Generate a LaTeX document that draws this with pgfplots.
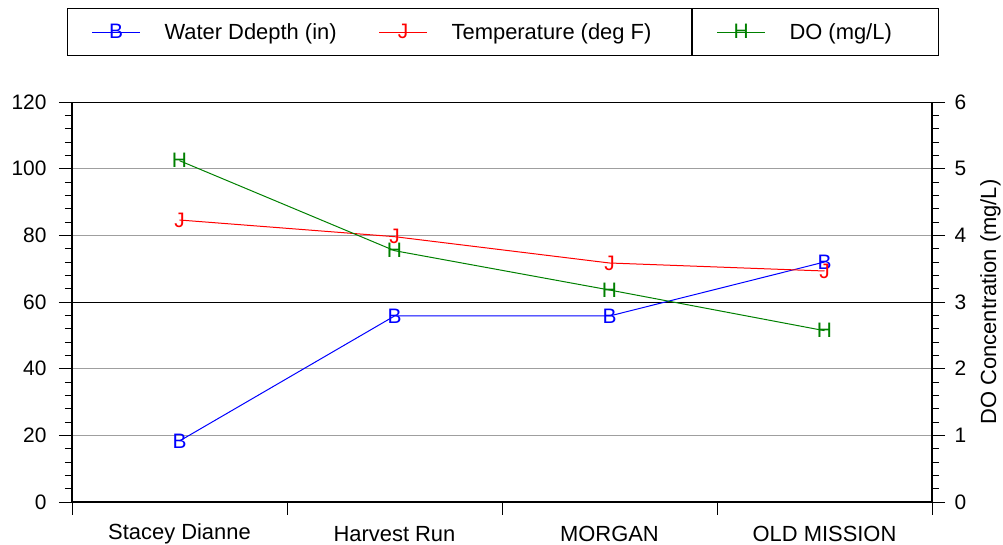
\documentclass[border=0pt]{standalone}
\usepackage{fontspec}
\setmainfont{Liberation Sans}
\usepackage{pgfplots}
\pgfplotsset{compat=1.18}
\usetikzlibrary{calc}
\definecolor{dogreen}{RGB}{0,128,0}

\begin{document}
\begin{tikzpicture}
\pgfplotsset{
  common/.style={
    width=860bp, height=400bp, scale only axis,
    xmin=0, xmax=4, ymin=0,
    tick label style={font=\fontsize{21}{25}\selectfont},
    /pgf/number format/assume math mode=true,
    minor y tick num=4,
    tick align=outside,
    major tick length=13bp, minor tick length=7bp,
    every tick/.style={black, line width=0.8bp},
    axis line style={-, line width=2.2bp},
    legend image code/.code={\draw[mark repeat=2,mark phase=2,##1] plot coordinates {(0bp,0bp)(24bp,0bp)(48bp,0bp)};},
    legend style={font=\fontsize{22}{26}\selectfont, draw=black, line width=1bp,
      inner xsep=24bp, inner ysep=13bp, anchor=north west,
      /tikz/every odd column/.append style={column sep=22bp},
      /tikz/every even column/.append style={column sep=40bp}},
  },
  ser/.style={color=#1, line width=1bp, mark=text, text mark as node=true,
    text mark style={font=\fontsize{21}{21}\selectfont, text=#1, inner sep=0pt}},
}
% left axis: depth and temperature
\begin{axis}[common,
  clip=false,
  ymax=120, ytick={0,20,...,120},
  axis y line*=left, axis x line*=bottom,
  yticklabel style={xshift=-9bp},
  ymajorgrids, grid style={gray!75, line width=0.8bp},
  extra y ticks={60}, extra y tick labels={},
  extra y tick style={grid style={black, line width=0.8bp}},
  xtick={0,1,2,3,4}, xticklabels={},
  minor x tick num=0,
  legend columns=2,
  legend style={at={(-0.0058,1.235)}},
]
\addplot[ser=blue, text mark={B}] coordinates {
  (0.5,18.3) (1.5,55.8) (2.5,55.8) (3.5,72.0)
};
\addlegendentry{Water Ddepth (in)}
\addplot[ser=red, text mark={J}] coordinates {
  (0.5,84.6) (1.5,79.6) (2.5,71.7) (3.5,69.3)
};
\addlegendentry{Temperature (deg F)\kern14bp\null}
\draw[line width=0.8bp] (rel axis cs:0,1) -- (rel axis cs:1,1);
\node[font=\fontsize{22}{26}\selectfont, anchor=center] at (axis cs:0.5,0) [yshift=-32bp] {Stacey Dianne};
\node[font=\fontsize{22}{26}\selectfont, anchor=center] at (axis cs:1.5,0) [yshift=-32bp] {Harvest Run};
\node[font=\fontsize{22}{26}\selectfont, anchor=center] at (axis cs:2.5,0) [yshift=-32bp] {MORGAN};
\node[font=\fontsize{22}{26}\selectfont, anchor=center] at (axis cs:3.5,0) [yshift=-32bp] {OLD MISSION};
\coordinate (bl) at (rel axis cs:0,0);
\coordinate (tr) at (rel axis cs:1,1);
\end{axis}
% right axis: dissolved oxygen
\begin{axis}[common,
  ymax=6, ytick={0,...,6},
  axis y line*=right, axis x line=none,
  yticklabel style={xshift=6bp},
  ylabel={DO Concentration (mg/L)},
  ylabel style={font=\fontsize{22}{26}\selectfont, at={(rel axis cs:1.068,0.5)}, anchor=center},
  legend style={at={(0.721,1.235)}},
]
\addplot[ser=dogreen, text mark={H}] coordinates {
  (0.5,5.12) (1.5,3.77) (2.5,3.18) (3.5,2.57)
};
\addlegendentry{DO (mg/L)\kern21bp\null}
\end{axis}
\pgfresetboundingbox
\path ($(bl)+(-72bp,-43bp)$) rectangle ($(tr)+(71bp,102bp)$);
\end{tikzpicture}
\end{document}
